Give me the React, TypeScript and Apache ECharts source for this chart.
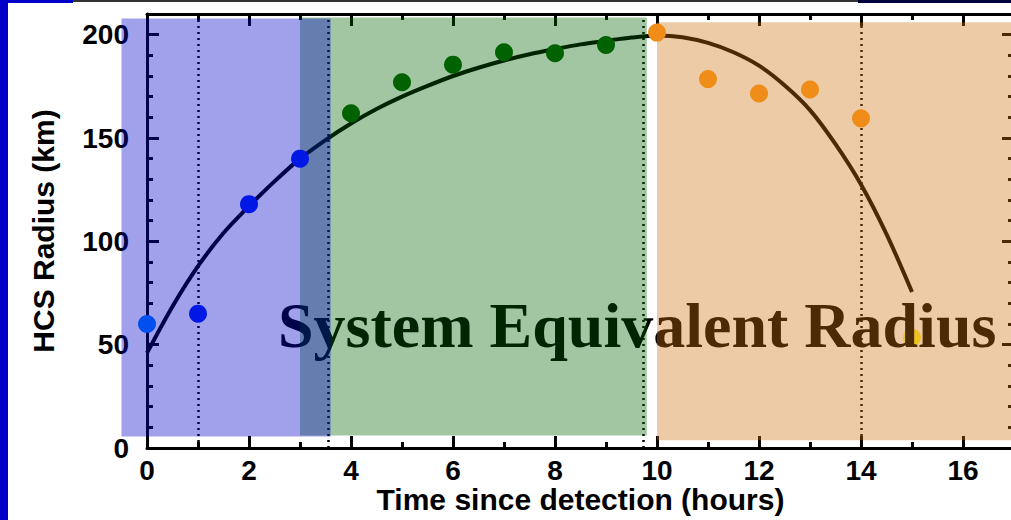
import React, { useEffect, useRef } from "react";
import * as echarts from "echarts";

// Measured HCS radius (km) vs. hours since detection
const dotTimes = [0, 1, 2, 3, 4, 5, 6, 7, 8, 9, 10, 11, 12, 13, 14];
const dotRadii = [60, 65, 118, 140, 162, 177, 185.5, 191.5, 191, 195, 201, 178.5, 171.5, 173.5, 159.5];
// phase of each measurement: 0 growth, 1 mature, 2 decay
const dotPhase = [0, 0, 0, 0, 1, 1, 1, 1, 1, 1, 2, 2, 2, 2, 2];
const lastTime = [15];
const lastRadius = [53.5];

// System equivalent radius fit curve
const fitTimes = [0, 0.5, 1, 1.5, 2, 2.5, 3, 3.5, 4, 4.5, 5, 5.5, 6, 6.5, 7, 7.5, 8, 8.5, 9, 9.5, 10, 10.5, 11, 11.5, 12, 12.5, 13, 13.5, 14, 14.5, 15];
const fitRadii = [46, 68.5, 88, 104, 117, 129, 140, 149, 157, 164, 170, 175.2, 180, 184, 187.5, 190.5, 193, 195.3, 197, 198.6, 199.6, 198.8, 196, 191.5, 185, 175.5, 163.5, 147, 127.5, 103.5, 75.5];

// Phase boundaries (hours)
const markerTimes = [1, 3.55, 9.73, 14];
// Shaded phase bands: [start, end, low, high]
const bandStart = [3.0, 10.0, -0.5];
const bandEnd = [9.8, 17.5, 3.6];
const bandLow = [6, 3.7, 5.6];
const bandHigh = [208.3, 206, 207.8];

const xTicks = { min: 0, max: 17, interval: 2 };
const yTicks = { min: 0, max: 210, interval: 50 };

const bandColors = ["rgba(0,100,0,0.37)", "rgba(203,113,14,0.37)", "rgba(0,0,200,0.37)"];
const phaseColors = ["#0018e6", "#006200", "#f08c18"];

export default function App() {
  const ref = useRef<HTMLDivElement>(null);

  useEffect(() => {
    if (!ref.current) return;
    const chart = echarts.init(ref.current, undefined, { renderer: "svg" });

    const labelFont = { fontFamily: "Liberation Sans", fontWeight: "bold" as const, color: "#000" };
    const axisLine = { show: true, onZero: false, lineStyle: { color: "#000", width: 3 } };
    const axisTick = { show: true, inside: true, length: 12, lineStyle: { color: "#000", width: 3 } };

    const dots = dotTimes.map((t, i) => ({
      value: [t, dotRadii[i]],
      itemStyle: { color: i === 0 ? "#0050f0" : phaseColors[dotPhase[i]] },
    }));

    const bands = bandStart.map((s, i) => [s, bandEnd[i], bandLow[i], bandHigh[i], i]);

    chart.setOption({
      animation: false,
      backgroundColor: "#fff",
      grid: { left: 147, right: -3, top: 14, bottom: 72, containLabel: false, outerBoundsMode: "none" },
      xAxis: [
        {
          type: "value",
          ...xTicks,
          position: "bottom",
          name: "Time since detection (hours)",
          nameLocation: "middle",
          nameGap: 36,
          nameMoveOverlap: false,
          nameTextStyle: { ...labelFont, fontSize: 30 },
          axisLine,
          axisTick,
          minorTick: { show: true, splitNumber: 2, length: 6, lineStyle: { color: "#000", width: 3 } },
          axisLabel: { ...labelFont, fontSize: 28, margin: 8, showMaxLabel: false },
          splitLine: { show: false },
        },
        {
          type: "value",
          ...xTicks,
          position: "top",
          axisLine,
          axisTick,
          minorTick: { show: true, splitNumber: 2, length: 6, lineStyle: { color: "#000", width: 3 } },
          axisLabel: { show: false },
          splitLine: { show: false },
        },
      ],
      yAxis: [
        {
          type: "value",
          ...yTicks,
          position: "left",
          name: "HCS Radius (km)",
          nameLocation: "middle",
          nameGap: 89,
          nameMoveOverlap: false,
          nameTextStyle: { ...labelFont, fontSize: 30 },
          axisLine,
          axisTick,
          minorTick: { show: true, splitNumber: 5, length: 6, lineStyle: { color: "#000", width: 3 } },
          axisLabel: { ...labelFont, fontSize: 28, margin: 18, showMaxLabel: false },
          splitLine: { show: false },
        },
        {
          type: "value",
          ...yTicks,
          position: "right",
          axisLine,
          axisTick,
          minorTick: { show: true, splitNumber: 5, length: 6, lineStyle: { color: "#000", width: 3 } },
          axisLabel: { show: false },
          splitLine: { show: false },
        },
      ],
      series: [
        {
          type: "line",
          z: 2,
          data: fitTimes.map((t, i) => [t, fitRadii[i]]),
          smooth: 0.3,
          showSymbol: false,
          silent: true,
          lineStyle: { color: "#000", width: 4 },
          markLine: {
            silent: true,
            z: 2,
            symbol: ["none", "none"],
            label: { show: false },
            lineStyle: { color: "#000", width: 2.5, type: [2, 4] },
            data: markerTimes.map((t) => ({ xAxis: t })),
          },
        },
        {
          type: "scatter",
          z: 3,
          symbolSize: 18,
          silent: true,
          itemStyle: { color: "#fff02c", opacity: 1 },
          data: lastTime.map((t, i) => [t, lastRadius[i]]),
        },
        {
          type: "custom",
          z: 10,
          silent: true,
          clip: false,
          encode: { x: [0, 1], y: [2, 3] },
          data: bands,
          renderItem: (_params: any, api: any) => {
            const p0 = api.coord([api.value(0), api.value(3)]);
            const p1 = api.coord([api.value(1), api.value(2)]);
            return {
              type: "rect",
              shape: { x: p0[0], y: p0[1], width: p1[0] - p0[0], height: p1[1] - p0[1] },
              style: { fill: bandColors[api.value(4)] },
            };
          },
        },
        {
          type: "scatter",
          z: 11,
          symbolSize: 18,
          silent: true,
          itemStyle: { opacity: 1 },
          data: dots,
        },
      ],
      graphic: [
        {
          type: "text",
          x: 278,
          y: 325,
          z: 5,
          silent: true,
          style: {
            text: "System Equivalent Radius",
            fontFamily: "Liberation Serif",
            fontWeight: "bold",
            fontSize: 64,
            fill: "#000",
            verticalAlign: "middle",
          },
        },
        // slide frame
        { type: "rect", z: 20, silent: true, shape: { x: 0, y: 0, width: 8, height: 520 }, style: { fill: "#0000c8" } },
        { type: "rect", z: 20, silent: true, shape: { x: 0, y: 0, width: 73, height: 3 }, style: { fill: "#0000c8" } },
        { type: "rect", z: 20, silent: true, shape: { x: 73, y: 0, width: 785, height: 2 }, style: { fill: "#333" } },
        { type: "rect", z: 20, silent: true, shape: { x: 858, y: 0, width: 153, height: 3 }, style: { fill: "#000040" } },
      ],
    });

    return () => chart.dispose();
  }, []);

  return <div ref={ref} style={{ position: "absolute", left: 0, top: 0, width: 1011, height: 520 }} />;
}
